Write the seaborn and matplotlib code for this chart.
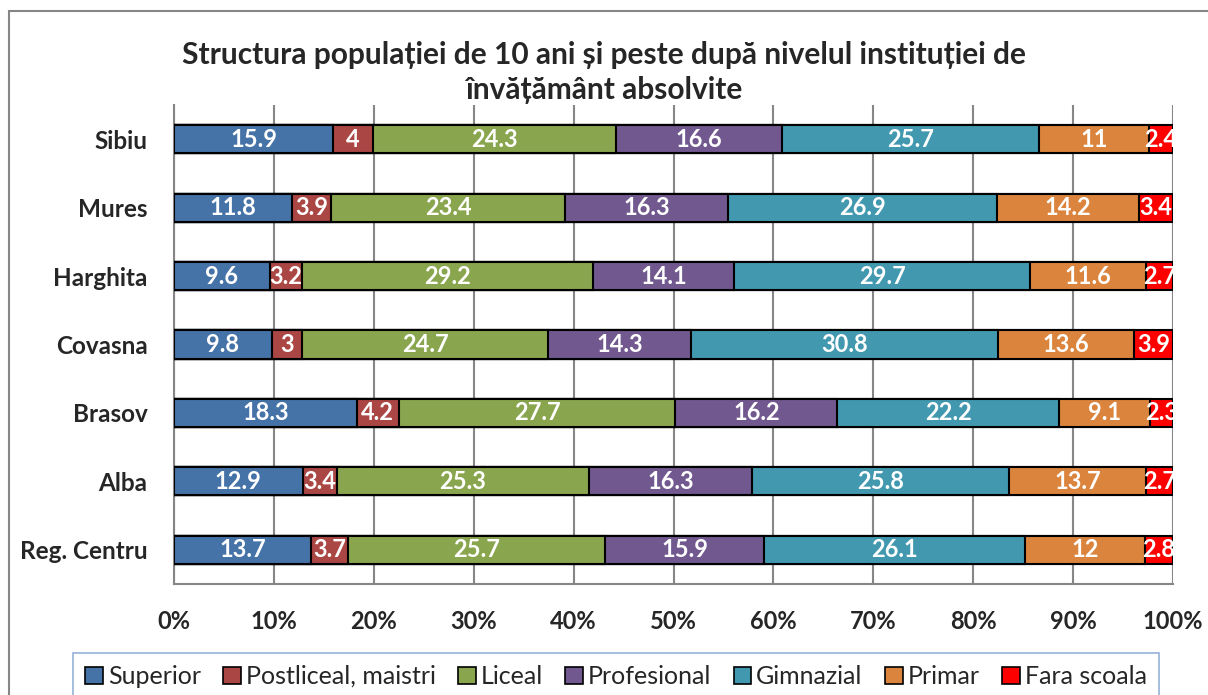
import numpy as np
import pandas as pd
import matplotlib.pyplot as plt
import seaborn as sns
from matplotlib.patches import Patch, Rectangle

regions = ["Sibiu", "Mures", "Harghita", "Covasna", "Brasov", "Alba", "Reg. Centru"]
levels = ["Superior", "Postliceal, maistri", "Liceal", "Profesional",
          "Gimnazial", "Primar", "Fara scoala"]
superior = [15.9, 11.8, 9.6, 9.8, 18.3, 12.9, 13.7]
postliceal = [4, 3.9, 3.2, 3, 4.2, 3.4, 3.7]
liceal = [24.3, 23.4, 29.2, 24.7, 27.7, 25.3, 25.7]
profesional = [16.6, 16.3, 14.1, 14.3, 16.2, 16.3, 15.9]
gimnazial = [25.7, 26.9, 29.7, 30.8, 22.2, 25.8, 26.1]
primar = [11, 14.2, 11.6, 13.6, 9.1, 13.7, 12]
fara_scoala = [2.4, 3.4, 2.7, 3.9, 2.3, 2.7, 2.8]
colors = ["#4572A7", "#AA4643", "#89A54E", "#71588F", "#4198AF", "#DB843D", "#FF0000"]

sns.set_style("white")
plt.rcParams['font.family'] = ['Lato', 'DejaVu Sans']

vals = np.array([superior, postliceal, liceal, profesional, gimnazial, primar, fara_scoala])
pct = vals / vals.sum(axis=0) * 100
cum = np.cumsum(pct, axis=0)

fig = plt.figure(figsize=(12.08, 6.95), dpi=100)
ax = fig.add_axes([174/1208, 1 - 584/695, (1173-174)/1208, (584-105)/695])

# stacked bars: draw cumulative totals from the largest down so each covers the next
for i in range(len(levels) - 1, -1, -1):
    df = pd.DataFrame({"region": regions, "value": cum[i]})
    sns.barplot(data=df, x="value", y="region", orient="h", color=colors[i],
                width=0.41, edgecolor="black", linewidth=1.5, saturation=1, ax=ax, zorder=3)

for i in range(len(levels)):
    for j in range(len(regions)):
        xc = cum[i, j] - pct[i, j] / 2
        ax.text(xc, j, f"{vals[i, j]:g}", ha="center", va="center", color="white",
                fontsize=17, fontweight="bold", zorder=5)

ax.set_xlim(0, 100)
ax.set_ylim(6.5, -0.5)
ax.set_xticks(np.arange(0, 101, 10))
ax.set_xticklabels([f"{t}%" for t in range(0, 101, 10)], fontsize=17, fontweight="bold")
ax.set_yticks(range(len(regions)))
ax.set_yticklabels(regions, fontsize=17.5, fontweight="bold")
ax.set_yticks(np.arange(-0.5, 7, 1), minor=True)
ax.tick_params(axis="y", which="major", length=0, pad=19)
ax.tick_params(axis="y", which="minor", length=8, width=1.5, color="#868686", direction="out")
ax.tick_params(axis="x", which="major", length=7, width=1.5, color="#868686", pad=12)
ax.set_xlabel("")
ax.set_ylabel("")
ax.grid(axis="x", color="#868686", linewidth=1.5, zorder=0)
ax.set_axisbelow(True)
for side in ["top", "right"]:
    ax.spines[side].set_visible(False)
for side in ["left", "bottom"]:
    ax.spines[side].set_color("#868686")
    ax.spines[side].set_linewidth(1.5)

fig.text(0.5, 1 - 55/695, "Structura populației de 10 ani și peste după nivelul instituției de",
         ha="center", va="center", fontsize=21.5, fontweight="bold")
fig.text(0.5, 1 - 90/695, "învățământ absolvite",
         ha="center", va="center", fontsize=21.5, fontweight="bold")

handles = [Patch(facecolor=c, edgecolor="black", linewidth=1.2) for c in colors]
leg = fig.legend(handles, levels, loc="upper center", bbox_to_anchor=((72+1160)/2/1208, 1 - 640/695),
                 ncol=7, fontsize=18, frameon=True, fancybox=False, handlelength=0.7,
                 handleheight=0.7, handletextpad=0.2, columnspacing=0.9, borderpad=0.5)
leg.get_frame().set_edgecolor("#7BA0CD")
leg.get_frame().set_linewidth(1.2)

fig.patches.append(Rectangle((9/1208, -0.1), 1.2, 1.1 - 11/695, transform=fig.transFigure,
                             fill=False, edgecolor="#868686", linewidth=1.5))

fig.savefig("out.png", dpi=100)
